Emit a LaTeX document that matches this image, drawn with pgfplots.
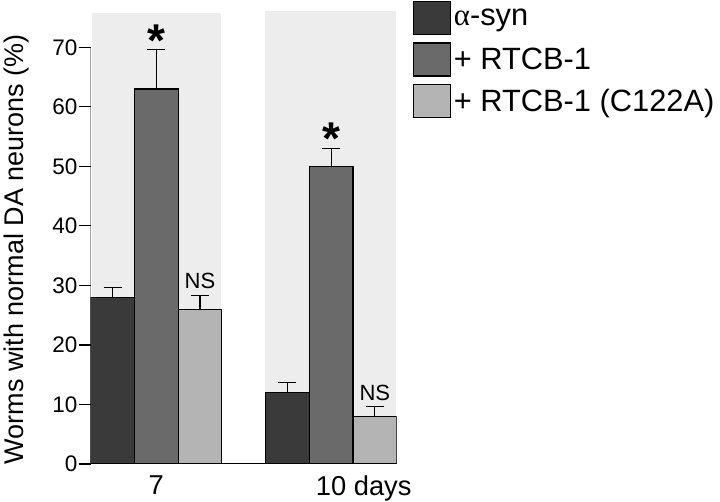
\documentclass[border=0pt]{standalone}
\usepackage{fontspec}
\setmainfont{Liberation Sans}
\newfontfamily\serifgreek{Liberation Serif}
\usepackage{pgfplots}
\pgfplotsset{compat=1.18}
\definecolor{cdark}{RGB}{58,58,58}
\definecolor{cmid}{RGB}{106,106,106}
\definecolor{clight}{RGB}{180,180,180}
\definecolor{cband}{RGB}{237,237,237}
\begin{document}
\begin{tikzpicture}
\begin{axis}[
  name=ax,
  scale only axis, width=306bp, height=452.4bp,
  xmin=-1.5, xmax=5.5, ymin=0, ymax=76,
  axis x line*=bottom, axis y line*=left,
  axis line style={draw=none},
  /pgf/number format/assume math mode=true,
  ytick={0,10,...,70}, ytick pos=left,
  tick align=outside,
  major tick length=11.7bp,
  ytick style={black, line width=1.2bp},
  yticklabel style={font=\fontsize{22.5bp}{26bp}\selectfont, inner sep=1.5bp},
  xtick={0,4}, xticklabels={7, 10\rlap{ days}},
  xtick style={draw=none},
  xticklabel style={font=\fontsize{27.3bp}{32bp}\selectfont, inner sep=0pt, anchor=north, yshift=0bp},
  ylabel={Worms with normal DA neurons (\%)},
  ylabel style={font=\fontsize{27bp}{32bp}\selectfont, at={(ticklabel cs:0.475,18bp)}},
  legend style={at={(rel axis cs:1,1)}, anchor=north west, xshift=16bp, yshift=11bp,
    draw=none, fill=none, inner sep=0pt, outer sep=0pt, row sep=7.5bp,
    font=\fontsize{30.8bp}{36bp}\selectfont, nodes={inner sep=0pt}, cells={anchor=west}},
  legend image code/.code={\draw[#1, draw=black, line width=1.2bp] (0bp,-16.5bp) rectangle (37bp,16.5bp); \path (40bp,0bp);},
  every axis plot/.append style={ybar, bar width=1, bar shift=0, draw=black, line width=1.2bp,
    /pgfplots/error bars/y dir=plus, /pgfplots/error bars/y explicit, /pgfplots/error bars/error mark=|,
    /pgfplots/error bars/error bar style={black, line width=1.2bp},
    /pgfplots/error bars/error mark options={black, mark size=9bp, line width=1.2bp}},
]
\fill[cband] (axis cs:-1.46,0) rectangle (axis cs:1.48,75.8);
\fill[cband] (axis cs:2.49,0) rectangle (axis cs:5.49,76.1);
\addplot[fill=cdark] coordinates {(-1,28) +- (0,1.7) (3,12) +- (0,1.7)};
\addplot[fill=cmid] coordinates {(0,63) +- (0,6.6) (4,50) +- (0,3.0)};
\addplot[fill=clight] coordinates {(1,26) +- (0,2.3) (5,8) +- (0,1.65)};
\legend{{\serifgreek α}-syn, + RTCB-1, + RTCB-1 (C122A)}
\draw[black, line width=1.2bp] (axis cs:-1.5,70) -- (axis cs:-1.5,0) -- (axis cs:5.5,0);
\node[font=\fontsize{46bp}{50bp}\bfseries\selectfont, inner sep=0pt] at (axis cs:0,71.1) {*};
\node[font=\fontsize{46bp}{50bp}\bfseries\selectfont, inner sep=0pt] at (axis cs:4,54.6) {*};
\node[font=\fontsize{22bp}{26bp}\selectfont, inner sep=0pt] at (axis cs:1,30.7) {NS};
\node[font=\fontsize{22bp}{26bp}\selectfont, inner sep=0pt] at (axis cs:5,11.9) {NS};
\end{axis}
\pgfresetboundingbox
\path (ax.south west) ++(-90.7bp,-38bp) rectangle ++(720bp,502bp);
\end{tikzpicture}
\end{document}
